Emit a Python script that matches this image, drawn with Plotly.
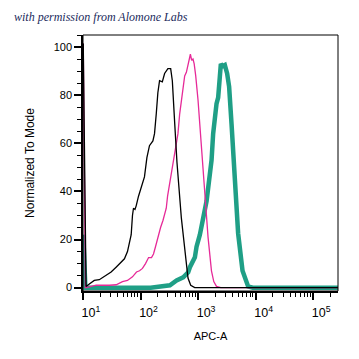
import plotly.graph_objects as go

# Histogram traces (x = APC-A intensity, y = % of mode)
black_x = [10.1, 11.3, 12.9, 15.7, 19.2, 25.2, 30.8, 37.6, 44.8, 52.5, 59.3, 64.2, 68.8, 72.4, 75.4,
           80.1, 84.0, 92.2, 100, 108, 117, 129, 143, 164, 175, 188, 200, 214, 239, 262, 299, 334,
           357, 391, 430, 512, 585, 668, 745, 874, 1200, 270000]
black_y = [101.5, 0.5, 1.5, 3, 3.3, 5, 6.5, 8.5, 10.5, 12, 15, 19, 22, 30, 33, 32.5, 34, 38, 41, 44,
           46, 54, 59, 61, 64, 72.5, 81, 86, 85.5, 89, 91, 91, 86, 69, 52, 29, 15, 4, 1, 0, 0, 0]

mag_x = [10.1, 11.0, 12.9, 16.9, 28.8, 37.7, 48.5, 59.3, 72.4, 85.1, 96, 108, 122, 138, 155, 168,
         182, 200, 223, 246, 262, 280, 295, 320, 347, 366, 399, 447, 478, 512, 546, 585, 626, 668,
         700, 735, 774, 816, 856, 910, 998, 1143, 1306, 1490, 1709, 1875, 2088, 2483, 270000]
mag_y = [101.5, 0, 0.3, 1.0, 1.0, 1.2, 2.5, 3, 4.5, 6.5, 7, 8, 10, 12.5, 12.5, 14, 17, 21, 25, 28,
         30, 33, 38, 43, 48, 50, 57, 64, 72, 78, 84, 88, 89.5, 93, 94, 97, 94.5, 95, 93, 88, 78, 60,
         40, 21, 7, 2.5, 0.5, 0, 0]

teal_x = [10.1, 11.0, 150, 217, 324, 423, 517, 551, 673, 721, 880, 941, 1075, 1230, 1405, 1716,
          1828, 2094, 2233, 2389, 2488, 2661, 2918, 3199, 3466, 3816, 4185, 4356, 4970, 5925, 7413,
          8939, 270000]
teal_y = [22, 0, 0, 0.3, 1, 3, 3.7, 4.3, 6.4, 8.5, 12.6, 17, 22, 30, 36, 53, 64, 76.5, 79, 87.6,
          93, 92, 92.5, 89, 83.5, 68, 50, 43, 22.5, 7, 0.5, 0, 0]

x_tickvals = [10, 100, 1000, 10000, 100000]
x_ticktext = ["10<sup>1</sup>", "10<sup>2</sup>", "10<sup>3</sup>", "10<sup>4</sup>", "10<sup>5</sup>"]
x_minor = [m * d for d in [10, 100, 1000, 10000, 100000] for m in range(2, 10)]
y_tickvals = [0, 20, 40, 60, 80, 100]

fig = go.Figure()
fig.add_trace(go.Scatter(x=teal_x, y=teal_y, mode="lines",
                         line=dict(color="#1f9f86", width=4.5)))
fig.add_trace(go.Scatter(x=mag_x, y=mag_y, mode="lines",
                         line=dict(color="#e62a98", width=1.3)))
fig.add_trace(go.Scatter(x=black_x, y=black_y, mode="lines",
                         line=dict(color="#000000", width=1.3)))

font = "Liberation Sans, Arial, sans-serif"
fig.update_layout(
    width=351, height=351,
    margin=dict(l=75, r=20.7, t=27.3, b=68.3),
    paper_bgcolor="white", plot_bgcolor="white",
    showlegend=False,
    font=dict(family=font, size=11, color="black"),
    shapes=[dict(type="rect", xref="paper", yref="paper", x0=0, x1=1, y0=0, y1=1,
                 line=dict(color="black", width=1), layer="above")],
    annotations=[dict(text="<i>with permission from Alomone Labs</i>", xref="paper", yref="paper",
                      x=-0.2796, y=1.0717, xanchor="left", yanchor="middle",
                      showarrow=False,
                      font=dict(family="Liberation Serif, serif", size=12, color="#1b2a5c"))],
)
fig.update_xaxes(
    type="log", range=[1.0, 5.432],
    tickvals=x_tickvals, ticktext=x_ticktext,
    ticks="outside", ticklen=7, tickwidth=2, tickcolor="black",
    ticklabelshift=8, ticklabelstandoff=2,
    minor=dict(tickvals=x_minor, ticks="outside", ticklen=4, tickwidth=1, tickcolor="black"),
    showline=True, linecolor="black", linewidth=1.5,
    showgrid=False, zeroline=False,
    title=dict(text="APC-A", font=dict(size=11), standoff=14),
    tickfont=dict(size=12.5),
)
fig.update_yaxes(
    range=[-1.4, 105],
    tickvals=y_tickvals,
    ticks="outside", ticklen=7, tickwidth=2, tickcolor="black",
    minor=dict(dtick=5, tick0=0, ticks="outside", ticklen=4, tickwidth=1, tickcolor="black"),
    showline=True, linecolor="black", linewidth=1.5,
    showgrid=False, zeroline=False,
    title=dict(text="Normalized To Mode", font=dict(size=12), standoff=16),
    tickfont=dict(size=11),
)
fig.write_html("out.html")
